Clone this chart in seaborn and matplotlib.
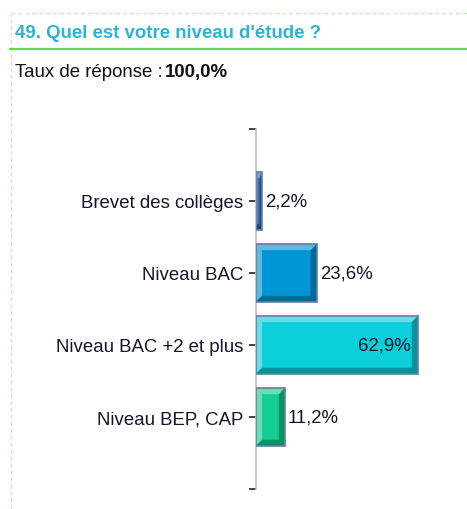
import matplotlib
matplotlib.use("Agg")
import matplotlib.pyplot as plt
from matplotlib.patches import Polygon, Rectangle
from matplotlib.lines import Line2D
import matplotlib.colors as mcolors
import numpy as np
import pandas as pd
import seaborn as sns

# donnees
categories = ["Brevet des collèges", "Niveau BAC", "Niveau BAC +2 et plus", "Niveau BEP, CAP"]
valeurs = [2.2, 23.6, 62.9, 11.2]
couleurs = ["#2F68AE", "#0096D6", "#0BCFDA", "#13CD92"]
titre = "49. Quel est votre niveau d'étude ?"
taux = "100,0%"

sns.set_style("white")
plt.rcParams["font.family"] = ["Liberation Sans", "DejaVu Sans"]

W, H = 467, 510
fig = plt.figure(figsize=(W / 100, H / 100), dpi=100)

# cadre pointille et entete
fig.add_artist(Line2D([11 / W, 11 / W], [0, 1 - 14 / H], color="#C6EFC0", lw=1, ls=(0, (3, 2))))
fig.add_artist(Line2D([11 / W, 1], [1 - 14 / H, 1 - 14 / H], color="#C6EFC0", lw=1, ls=(0, (3, 2))))
fig.add_artist(Line2D([10 / W, 1], [1 - 50 / H, 1 - 50 / H], color="#5FDC3F", lw=1.6))
fig.text(15 / W, 1 - 33 / H, titre, color="#2AB4D6", fontsize=13.4, fontweight="bold", va="center")
t1 = fig.text(15 / W, 1 - 73 / H, "Taux de réponse : ", color="#111111", fontsize=13.4, va="center")
fig.canvas.draw()
bb = t1.get_window_extent()
fig.text(bb.x1 / W - 3 / W, 1 - 73 / H, taux, color="#111111", fontsize=13.4, fontweight="bold", va="center")

ax = fig.add_axes([256 / W, 20 / H, 180 / W, 360 / H])
df = pd.DataFrame({"cat": categories, "val": valeurs})
sns.barplot(data=df, y="cat", x="val", hue="cat", palette=couleurs, legend=False,
            width=0.8, saturation=1, ax=ax, edgecolor="none")

ax.set_xlim(0, 70)
ax.set_ylim(4, -1)
ax.set_yticks(range(-1, 5))
ax.set_yticklabels([""] + categories + [""])
ax.set_xticks([])
ax.set_xlabel("")
ax.set_ylabel("")
for s in ["top", "right", "bottom"]:
    ax.spines[s].set_visible(False)
ax.spines["left"].set_color("#BDBDBD")
ax.spines["left"].set_linewidth(1.2)
ax.tick_params(axis="y", left=True, direction="out", length=5, width=1.2, color="#222222",
               pad=4, labelsize=13.4, labelcolor="#14142A")

# effet biseau sur chaque barre
px_x = 70 / 180
px_y = 5 / 360
for p, v, c in zip(ax.patches, valeurs, couleurs):
    x0, y0, w, h = p.get_x(), p.get_y(), p.get_width(), p.get_height()
    dx = min(6 * px_x, w * 0.3)
    dy = 6 * px_y
    base = np.array(mcolors.to_rgb(c))
    clair = base + (1 - base) * 0.35
    fonce = base * 0.7
    ax.add_patch(Polygon([(x0, y0), (x0 + w, y0), (x0 + w - dx, y0 + dy), (x0 + dx, y0 + dy),
                          (x0 + dx, y0 + h - dy), (x0, y0 + h)], closed=True,
                         facecolor=clair, edgecolor="none", zorder=3))
    ax.add_patch(Polygon([(x0 + w, y0), (x0 + w, y0 + h), (x0, y0 + h), (x0 + dx, y0 + h - dy),
                          (x0 + w - dx, y0 + h - dy), (x0 + w - dx, y0 + dy)], closed=True,
                         facecolor=fonce, edgecolor="none", zorder=3))
    ax.add_patch(Rectangle((x0, y0), w, h, fill=False, edgecolor="#6A7C9C", lw=1.2, zorder=4))
    lab = f"{v:.1f}%".replace(".", ",")
    yc = y0 + h / 2
    if v == max(valeurs):
        ax.text(x0 + w - 7 * px_x, yc, lab, ha="right", va="center", fontsize=13.4, color="#14142A", zorder=5)
    else:
        ax.text(x0 + w + 3 * px_x, yc, lab, ha="left", va="center", fontsize=13.4, color="#14142A", zorder=5)

fig.savefig("out.png", dpi=100)
